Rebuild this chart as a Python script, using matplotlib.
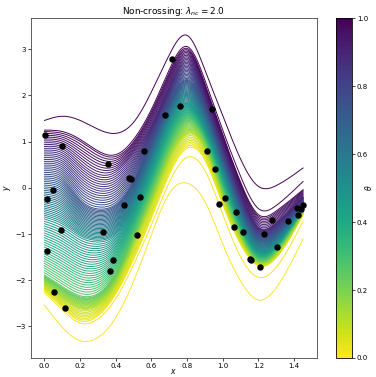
import numpy as np
import matplotlib
matplotlib.use('Agg')
import matplotlib.pyplot as plt

# observed points
pts_x = [0.002, 0.099, 0.355, 0.557, 0.475, 0.485, 0.536, 0.447, 0.049, 0.017,
         0.090, 0.327, 0.519, 0.017, 0.385, 0.370, 0.056, 0.116, 0.676, 0.716,
         0.760, 0.938, 0.910, 0.956, 1.012, 0.979, 1.076, 1.061, 1.113, 1.229,
         1.277, 1.367, 1.414, 1.423, 1.438, 1.449, 1.302, 1.154, 1.158, 1.208]
pts_y = [1.15, 0.90, 0.51, 0.79, 0.22, 0.20, -0.19, -0.38, -0.04, -0.25,
         -0.92, -0.95, -1.02, -1.37, -1.56, -1.81, -2.25, -2.61, 1.57, 2.79,
         1.78, 1.71, 0.79, 0.40, -0.22, -0.34, -0.53, -0.84, -0.96, -1.00,
         -0.70, -0.71, -0.43, -0.58, -0.45, -0.38, -1.29, -1.54, -1.57, -1.71]

# quantile curves read at these x positions
knots = [0.0, 0.1, 0.2, 0.3, 0.4, 0.5, 0.6, 0.7, 0.8, 0.9, 1.0, 1.1, 1.2, 1.3, 1.45]
levels = [0.0, 0.01, 0.02, 0.1, 0.25, 0.5, 0.75, 0.9, 0.98, 0.99, 1.0]
q000 = [-2.54, -3.02, -3.31, -3.24, -2.81, -2.02, -1.01, -0.12, 0.10, -0.30, -1.22, -2.02, -2.43, -2.16, -1.10]
q001 = [-2.27, -2.64, -2.93, -2.84, -2.40, -1.66, -0.80, 0.12, 0.66, 0.37, -0.58, -1.50, -1.94, -1.72, -0.72]
q002 = [-2.23, -2.59, -2.88, -2.77, -2.30, -1.55, -0.65, 0.29, 0.86, 0.60, -0.36, -1.22, -1.69, -1.51, -0.58]
q010 = [-2.10, -2.40, -2.62, -2.55, -2.10, -1.25, -0.35, 0.60, 1.15, 0.85, -0.20, -1.10, -1.63, -1.45, -0.53]
q025 = [-1.90, -2.15, -2.35, -2.30, -1.85, -1.00, -0.05, 0.90, 1.45, 1.05, 0.00, -0.95, -1.55, -1.35, -0.48]
q050 = [-0.65, -0.80, -1.05, -1.15, -1.00, -0.40, 0.50, 1.45, 1.85, 1.35, 0.35, -0.70, -1.35, -1.20, -0.40]
q075 = [0.30, 0.20, -0.25, -0.45, -0.35, 0.15, 1.00, 1.85, 2.35, 1.75, 0.70, -0.35, -1.05, -0.95, -0.30]
q090 = [0.90, 0.85, 0.55, 0.30, 0.35, 0.75, 1.35, 2.20, 2.78, 2.05, 0.95, -0.10, -0.85, -0.75, -0.20]
q098 = [1.22, 1.18, 1.01, 0.76, 0.68, 1.00, 1.65, 2.50, 3.02, 2.25, 1.15, 0.12, -0.58, -0.50, -0.04]
q099 = [1.25, 1.22, 1.05, 0.80, 0.72, 1.05, 1.70, 2.56, 3.06, 2.33, 1.25, 0.25, -0.45, -0.38, 0.14]
q100 = [1.46, 1.55, 1.46, 1.27, 1.18, 1.42, 2.08, 2.88, 3.30, 2.55, 1.56, 0.62, 0.03, 0.05, 0.43]


def spline(xk, yk, xs):
    # natural cubic spline through the read values
    xk = np.asarray(xk)
    yk = np.asarray(yk)
    n = len(xk)
    h = np.diff(xk)
    A = np.zeros((n, n))
    b = np.zeros(n)
    A[0, 0] = 1
    A[-1, -1] = 1
    for i in range(1, n - 1):
        A[i, i - 1] = h[i - 1]
        A[i, i] = 2 * (h[i - 1] + h[i])
        A[i, i + 1] = h[i]
        b[i] = 6 * ((yk[i + 1] - yk[i]) / h[i] - (yk[i] - yk[i - 1]) / h[i - 1])
    m = np.linalg.solve(A, b)
    idx = np.clip(np.searchsorted(xk, xs) - 1, 0, n - 2)
    t0 = xs - xk[idx]
    t1 = xk[idx + 1] - xs
    hi = h[idx]
    return (m[idx] * t1 ** 3 / (6 * hi) + m[idx + 1] * t0 ** 3 / (6 * hi)
            + (yk[idx] / hi - m[idx] * hi / 6) * t1
            + (yk[idx + 1] / hi - m[idx + 1] * hi / 6) * t0)


table = np.array([q000, q001, q002, q010, q025, q050, q075, q090, q098, q099, q100])
thetas = np.linspace(0, 1, 100)
xs = np.linspace(knots[0], knots[-1], 300)
cmap = plt.get_cmap('viridis_r')

fig = plt.figure(figsize=(3.76, 3.77), dpi=100)
ax = fig.add_axes([0.0817, 0.0504, 0.7613, 0.9016])
cax = fig.add_axes([0.893, 0.0504, 0.0434, 0.9016])

for th in thetas:
    yk = [np.interp(th, levels, table[:, j]) for j in range(len(knots))]
    ax.plot(xs, spline(knots, yk, xs), color=cmap(th), lw=0.7)

ax.scatter(pts_x, pts_y, s=13, color='black', zorder=5)

ax.set_xlim(-0.077, 1.528)
ax.set_ylim(-3.685, 3.676)
ax.set_xticks([0.0, 0.2, 0.4, 0.6, 0.8, 1.0, 1.2, 1.4])
ax.set_yticks([-3, -2, -1, 0, 1, 2, 3])
ax.set_title(r'Non-crossing: $\lambda_{nc} = 2.0$', fontsize=6.4, pad=3)
ax.set_xlabel(r'$x$', fontsize=5.5)
ax.xaxis.set_label_coords(0.5, -0.026)
ax.set_ylabel(r'$y$', fontsize=5.5, labelpad=2)
ax.tick_params(labelsize=5, length=2, width=0.5, pad=1.5)
for s in ax.spines.values():
    s.set_linewidth(0.6)
    s.set_color('#444444')

sm = plt.cm.ScalarMappable(norm=plt.Normalize(0, 1), cmap=cmap)
cbar = fig.colorbar(sm, cax=cax)
cbar.set_ticks([0.0, 0.2, 0.4, 0.6, 0.8, 1.0])
cbar.ax.text(1.98, 0.5, r'$\theta$', fontsize=5.5, rotation=90,
             ha='center', va='center', transform=cbar.ax.transAxes)
cbar.ax.tick_params(labelsize=5, length=2, width=0.5, pad=1.5)
cbar.outline.set_linewidth(0.6)

fig.savefig('out.png', dpi=100)
